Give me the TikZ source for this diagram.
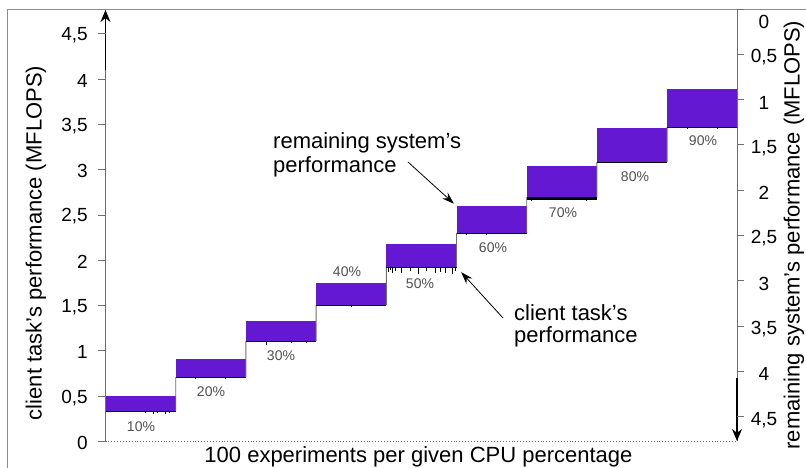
\documentclass[tikz,border=0pt]{standalone}
\usepackage{fontspec}
\setmainfont{Liberation Sans}
\usetikzlibrary{arrows.meta,calc}
\definecolor{barviolet}{RGB}{100,24,210}
\definecolor{axisgray}{RGB}{110,110,110}
\definecolor{framegray}{RGB}{140,140,140}
\definecolor{pctgray}{RGB}{80,80,80}
\begin{document}
\begin{tikzpicture}[x=1pt,y=-1pt,
  axisline/.style={draw=axisgray, line width=0.9pt},
  tickmark/.style={draw=axisgray, line width=0.9pt},
  ticklabel/.style={font=\fontsize{19}{19}\selectfont, inner sep=0pt},
  title/.style={font=\fontsize{22}{24}\selectfont, inner sep=0pt},
  pct/.style={font=\fontsize{14}{14}\selectfont, text=pctgray, inner sep=0pt},
  barbox/.style={fill=barviolet, draw=none, inner sep=0pt, outer sep=0pt, anchor=north west},
  riser/.style={draw=axisgray, line width=0.9pt},
  client/.style={draw=black, line width=1pt},
  spike/.style={draw=black, line width=0.8pt},
  pointer/.style={draw=black, line width=0.8pt, -{Stealth[length=12pt,width=8pt]}},
  axisarrow/.style={draw=black, line width=1.2pt, -{Stealth[length=12pt,width=10pt]}},
]
\useasboundingbox (0,0) rectangle (806,467);

% outer frame (runs past the right and bottom edges)
\draw[framegray, line width=1pt] (7.5,480) -- (7.5,9) -- (820,9);

% axes
\coordinate (ybot) at (105.5,441.5);
\coordinate (ytop) at (105.5,10);
\coordinate (yarr) at (105.5,70);
\coordinate (rtop) at (737,9);
\coordinate (rbot) at (737,441);
\coordinate (rarr) at (737,378);
\draw[axisgray, dotted, line width=0.9pt] (ybot) -- (737,441.5);
\draw[axisline] (ybot) -- (ytop);
\draw[axisarrow] (yarr) -- (ytop);
\draw[axisline] (rtop) -- (rbot);
\draw[axisarrow] (rarr) -- (rbot);

% left scale
\foreach \k/\t in {0/0,1/{0,5},2/1,3/{1,5},4/2,5/{2,5},6/3,7/{3,5},8/4,9/{4,5}}{
  \draw[tickmark] (98,{441.5-45.3*\k}) -- (105.5,{441.5-45.3*\k});
  \node[ticklabel, anchor=east] (yl\k) at (88,{443-45.3*\k}) {\t};
}
% right scale
\foreach \k/\t in {0/0,1/{0,5},2/1,3/{1,5},4/2,5/{2,5},6/3,7/{3,5},8/4,9/{4,5}}{
  \draw[tickmark] (737,{9+45.3*\k}) -- (744,{9+45.3*\k});
}
\node[ticklabel] (yr0) at (764,22) {0};
\foreach \k/\t in {1/{0,5},2/1,3/{1,5},4/2,5/{2,5},6/3,7/{3,5},8/4,9/{4,5}}{
  \node[ticklabel] (yr\k) at (764,{12+45.3*\k}) {\t};
}

% axis titles
\node[title, rotate=90] (ytitle) at (36,243) {client task’s performance (MFLOPS)};
\node[title, rotate=90] (rtitle) at (794,235) {remaining system’s performance (MFLOPS)};
\node[title, anchor=base] (xtitle) at (418.5,462) {100 experiments per given CPU percentage};

% steps: remaining system's share on top of the client task's level
\foreach \i/\top/\bot in {1/396/411,2/359/377,3/321/341,4/283/305,5/244/267,6/206/233,7/166/197,8/128/162,9/89/127}{
  \node[barbox, minimum width=70.2pt, minimum height={(\bot-\top)*1pt}] (b\i) at ({105.5+70.2*(\i-1)},\top) {};
}
\foreach \i [evaluate=\i as \j using int(\i+1)] in {1,...,8}{
  \draw[riser] (b\i.south east) -- (b\j.south west);
}
% client task's measured level
\foreach \i in {1,2,3,4,5,6,8,9}{
  \draw[client] ($(b\i.south west)+(0,0.5)$) -- ($(b\i.south east)+(0,0.5)$);
}
\draw[draw=black, line width=2.6pt] ($(b7.south west)+(0,1.3)$) -- ($(b7.south east)+(0,1.3)$);

% measurement dips
\foreach \dx/\len in {40/2,48/3,52/2,60/3,64/2}{
  \draw[spike] ($(b1.south west)+(\dx,0)$) -- ++(0,\len);}
\foreach \dx/\len in {20/1.5,50/2}{
  \draw[spike] ($(b2.south west)+(\dx,0)$) -- ++(0,\len);}
\foreach \dx/\len in {20/4,45/2,60/2}{
  \draw[spike] ($(b3.south west)+(\dx,0)$) -- ++(0,\len);}
\foreach \dx/\len in {35/2}{
  \draw[spike] ($(b4.south west)+(\dx,0)$) -- ++(0,\len);}
\foreach \dx/\len in {2/5,4/3,6/6,9/4,15/6,24/4,32/7,40/4,49/6,54/5,59/6,66/7,69/4}{
  \draw[spike] ($(b5.south west)+(\dx,0)$) -- ++(0,\len);}
\foreach \dx/\len in {10/1.5,30/1.5}{
  \draw[spike] ($(b6.south west)+(\dx,0)$) -- ++(0,\len);}
\foreach \dx/\len in {5/4,60/4}{
  \draw[spike] ($(b7.south west)+(\dx,0)$) -- ++(0,\len);}
\foreach \dx/\len in {20/1.5,50/1.5}{
  \draw[spike] ($(b9.south west)+(\dx,0)$) -- ++(0,\len);}

% CPU percentage labels
\node[pct] (p10) at (141,427) {10\%};
\node[pct] (p20) at (211,392) {20\%};
\node[pct] (p30) at (281,356) {30\%};
\node[pct] (p40) at (347,272) {40\%};
\node[pct] (p50) at (420,284) {50\%};
\node[pct] (p60) at (493,248) {60\%};
\node[pct] (p70) at (563,213) {70\%};
\node[pct] (p80) at (635,177) {80\%};
\node[pct] (p90) at (703,141) {90\%};

% annotations
\node[title, anchor=base west] (rs1) at (273,148) {remaining system’s};
\node[title, anchor=base west] (rs2) at (273,172) {performance};
\node[title, anchor=base west] (ct1) at (514,320) {client task’s};
\node[title, anchor=base west] (ct2) at (514,342) {performance};
\coordinate (rsfrom) at (408,162);
\coordinate (ctfrom) at (503,318);
\draw[pointer, shorten >=3.5pt] (rsfrom) -- (b6.north west);
\draw[pointer, shorten >=7pt] (ctfrom) -- (b5.south east);
\end{tikzpicture}
\end{document}
